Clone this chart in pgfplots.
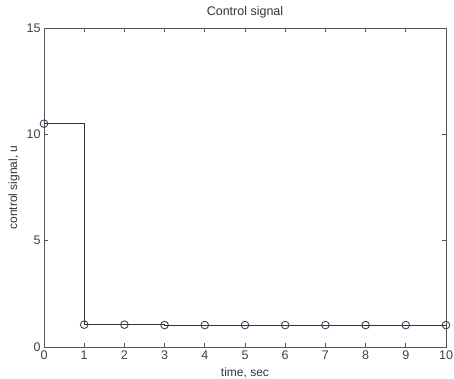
\documentclass[border=0pt]{standalone}
\usepackage{pgfplots}
\pgfplotsset{compat=1.18}
\usetikzlibrary{calc}
\usepackage{fontspec}
\setmainfont{Liberation Sans}
\definecolor{axgray}{HTML}{555555}
\definecolor{mk}{HTML}{3A3F5C}
\begin{document}
\begin{tikzpicture}
\begin{axis}[
  name=ax,
  scale only axis,
  width=402bp, height=319bp,
  xmin=0, xmax=10, ymin=0, ymax=15,
  xtick={0,...,10}, ytick={0,5,10,15},
  tick align=inside,
  major tick length=4bp,
  tick style={axgray, line width=0.8pt},
  axis line style={axgray, line width=1pt},
  /pgf/number format/assume math mode=true,
  tick label style={font=\fontsize{12.5bp}{14bp}\selectfont, text=black!75},
  label style={font=\fontsize{12bp}{13bp}\selectfont, text=black!80},
  title style={font=\fontsize{12.5bp}{14bp}\selectfont, text=black!80, at={(0.5,1.03)}, anchor=center},
  title={Control signal},
  xlabel={time, sec},
  ylabel={control signal, u},
  xlabel style={at={(0.5,-0.08)}, anchor=center},
  ylabel style={at={(-0.0743,0.5)}, anchor=center},
  clip=false,
]
\addplot[const plot, black!80, line width=0.9pt, mark=o, mark size=3.8bp,
  mark options={draw=mk, line width=0.9pt}]
  coordinates {(0,10.5) (1,1.05) (2,1.05) (3,1.03) (4,1.03) (5,1.03) (6,1.03) (7,1.03) (8,1.03) (9,1.03) (10,1.03)};
\end{axis}
\pgfresetboundingbox
\path ($(ax.south west)+(-44bp,-32bp)$) rectangle ($(ax.north east)+(8bp,28bp)$);
\end{tikzpicture}
\end{document}
